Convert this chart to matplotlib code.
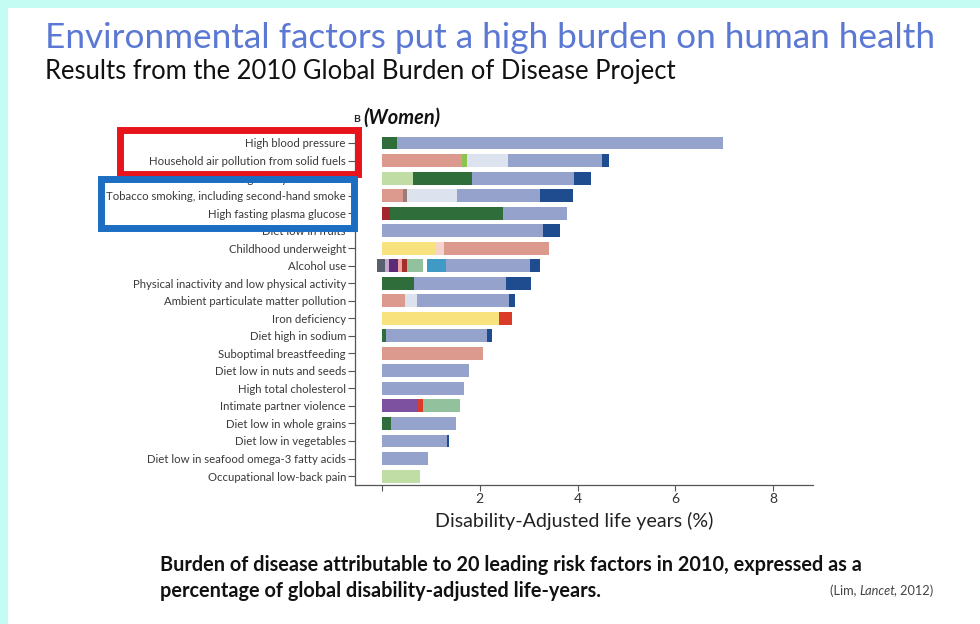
import matplotlib
matplotlib.use("Agg")
import matplotlib.pyplot as plt
from matplotlib.patches import Rectangle

W, H = 980, 624

# --- data ---
factors = [
    "High blood pressure",
    "Household air pollution from solid fuels",
    "High body-mass index",
    "Tobacco smoking, including second-hand smoke",
    "High fasting plasma glucose",
    "Diet low in fruits",
    "Childhood underweight",
    "Alcohol use",
    "Physical inactivity and low physical activity",
    "Ambient particulate matter pollution",
    "Iron deficiency",
    "Diet high in sodium",
    "Suboptimal breastfeeding",
    "Diet low in nuts and seeds",
    "High total cholesterol",
    "Intimate partner violence",
    "Diet low in whole grains",
    "Diet low in vegetables",
    "Diet low in seafood omega-3 fatty acids",
    "Occupational low-back pain",
]

# DALY share (%) per cause, stacked left to right
segments = [
    [("diabetes", 0.30), ("cardio", 6.67)],
    [("infections", 1.64), ("other_comm", 0.10), ("respiratory", 0.84), ("cardio", 1.92), ("neoplasms", 0.14)],
    [("musculoskeletal", 0.63), ("diabetes", 1.21), ("cardio", 2.09), ("neoplasms", 0.35)],
    [("infections", 0.43), ("digestive", 0.08), ("respiratory", 1.02), ("cardio", 1.70), ("neoplasms", 0.67)],
    [("hiv_tb", 0.16), ("diabetes", 2.31), ("cardio", 1.31)],
    [("cardio", 3.29), ("neoplasms", 0.35)],
    [("nutritional", 1.08), ("neonatal", 0.18), ("infections", 2.15)],
    [("transport", -0.10), ("transport", 0.06), ("neuro", 0.09), ("mental", 0.18), ("other_ncd", 0.08),
     ("cirrhosis", 0.10), ("injuries", 0.33), ("other", 0.08), ("self_harm", 0.39), ("cardio", 1.72),
     ("neoplasms", 0.20)],
    [("diabetes", 0.65), ("cardio", 1.88), ("neoplasms", 0.51)],
    [("infections", 0.47), ("respiratory", 0.25), ("cardio", 1.88), ("neoplasms", 0.12)],
    [("nutritional", 2.39), ("maternal", 0.27)],
    [("diabetes", 0.08), ("cardio", 2.07), ("neoplasms", 0.10)],
    [("infections", 2.07)],
    [("cardio", 1.78)],
    [("cardio", 1.68)],
    [("violence_mental", 0.74), ("maternal", 0.10), ("injuries", 0.76)],
    [("diabetes", 0.18), ("cardio", 1.33)],
    [("cardio", 1.33), ("neoplasms", 0.05)],
    [("cardio", 0.94)],
    [("musculoskeletal", 0.78)],
]

x_ticks = [0, 2, 4, 6, 8]
x_ticklabels = ["", "2", "4", "6", "8"]

# --- styles ---
cause_colors = {
    "cardio": "#95a3cc",
    "diabetes": "#2f6d3b",
    "infections": "#dc9a8e",
    "other_comm": "#8cc450",
    "respiratory": "#dde2ef",
    "neoplasms": "#1f4c8e",
    "musculoskeletal": "#bfdda4",
    "digestive": "#9a7d78",
    "hiv_tb": "#a3262c",
    "nutritional": "#f8e27e",
    "neonatal": "#f6d3cb",
    "transport": "#56616d",
    "neuro": "#c6a6cf",
    "mental": "#5d2a78",
    "other_ncd": "#f0a3a3",
    "cirrhosis": "#a5302a",
    "injuries": "#92c29d",
    "other": "#ffffff",
    "self_harm": "#3f9bc5",
    "maternal": "#d93a2a",
    "violence_mental": "#7d519f",
}

plt.rcParams["font.family"] = ["Lato", "DejaVu Sans"]

fig = plt.figure(figsize=(W / 100, H / 100), dpi=100)
fig.patch.set_facecolor("#c4fcf4")
fig.add_artist(Rectangle((8 / W, 0), 1, 1 - 8 / H, transform=fig.transFigure,
                         facecolor="white", edgecolor="none", zorder=0))
renderer = fig.canvas.get_renderer()


def fy(py):
    return 1 - py / H


def fit_text(x, y, s, width_px, size=12, **kw):
    t = fig.text(x / W, fy(y), s, fontsize=size, **kw)
    w = t.get_window_extent(renderer).width
    t.set_fontsize(size * width_px / w)
    return t


# --- bar chart ---
px_per_unit = 48.9
x0 = 382
ax_left, ax_right, ax_top, ax_bottom = 355, 813, 133, 485
ax = fig.add_axes([ax_left / W, fy(ax_bottom), (ax_right - ax_left) / W, (ax_bottom - ax_top) / H])
ax.set_facecolor("none")

for i, row in enumerate(segments):
    pos, neg = 0.0, 0.0
    for cause, val in row:
        if val < 0:
            ax.barh(i, val, left=neg, height=0.74, color=cause_colors[cause], edgecolor="none")
            neg += val
        else:
            ax.barh(i, val, left=pos, height=0.74, color=cause_colors[cause], edgecolor="none")
            pos += val

ax.set_xlim((ax_left - x0) / px_per_unit, (ax_right - x0) / px_per_unit)
ax.set_ylim(19.51, -0.57)
ax.set_yticks(range(len(factors)))
ax.set_yticklabels(factors, fontsize=8.2, color="#3a3a3a")
ax.set_xticks(x_ticks)
ax.set_xticklabels(x_ticklabels, fontsize=10, color="#333333")
ax.tick_params(axis="y", length=5, width=0.8, pad=1.5, color="#555555")
ax.tick_params(axis="x", length=4, width=0.8, pad=2, color="#555555")
for side in ["top", "right"]:
    ax.spines[side].set_visible(False)
for side in ["left", "bottom"]:
    ax.spines[side].set_color("#555555")
    ax.spines[side].set_linewidth(0.9)

# --- texts ---
fit_text(45, 38, "Environmental factors put a high burden on human health", 888,
         size=22, color="#5a78d4", ha="left", va="center")
fit_text(45, 72, "Results from the 2010 Global Burden of Disease Project", 633,
         size=15, color="#111111", ha="left", va="center")
fig.text(353 / W, fy(119), "B", fontsize=7.5, weight="bold", ha="left", va="center", color="#222222")
fit_text(363, 118, "(Women)", 77, size=11, weight="bold", style="italic",
         ha="left", va="center", color="#111111")
fit_text(435, 521, "Disability-Adjusted life years (%)", 278, size=12,
         ha="left", va="center", color="#222222")

cap = fit_text(160, 565, "Burden of disease attributable to 20 leading risk factors in 2010, expressed as a",
               700, size=11, weight="bold", ha="left", va="center", color="#111111")
fig.text(160 / W, fy(591), "percentage of global disability-adjusted life-years.",
         fontsize=cap.get_fontsize(), weight="bold", ha="left", va="center", color="#111111")

x = 830
for s, st in [("(Lim, ", "normal"), ("Lancet", "italic"), (", 2012)", "normal")]:
    t = fig.text(x / W, fy(591), s, fontsize=9.2, style=st, ha="left", va="center", color="#444444")
    x += t.get_window_extent(renderer).width - (1 if st == "italic" else 0)

# --- highlight boxes ---
fig.add_artist(Rectangle((119.5 / W, fy(174)), (358 - 119.5) / W, (174 - 130) / H,
                         transform=fig.transFigure, fill=False, edgecolor="#e8141c",
                         linewidth=5, joinstyle="miter", zorder=5))
fig.add_artist(Rectangle((100.5 / W, fy(228)), (354 - 100.5) / W, (228 - 179) / H,
                         transform=fig.transFigure, fill=False, edgecolor="#1b6ec2",
                         linewidth=5, joinstyle="miter", zorder=6))

fig.savefig("out.png", dpi=100, facecolor=fig.get_facecolor())
